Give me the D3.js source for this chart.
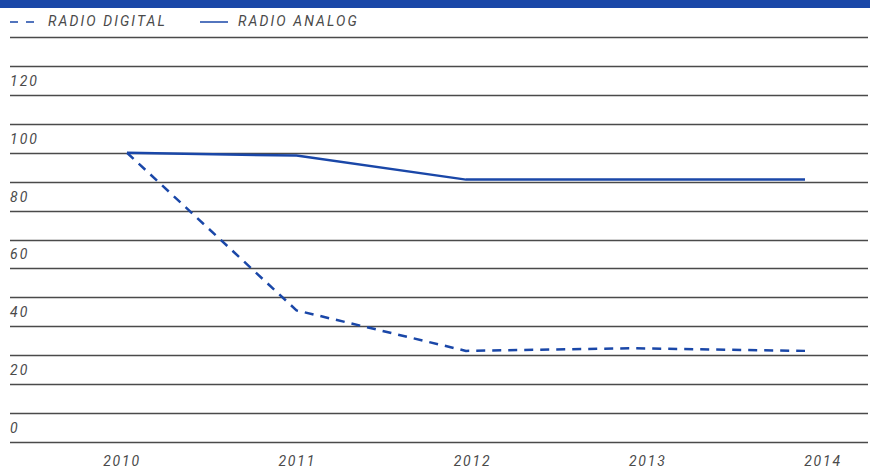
<!DOCTYPE html>
<html>
<head>
<meta charset="utf-8">
<script src="https://cdnjs.cloudflare.com/ajax/libs/d3/7.8.5/d3.min.js"></script>
<style>
  html, body { margin: 0; padding: 0; background: #fff; }
  text { font-family: Roboto, "DejaVu Sans", sans-serif; font-style: italic; fill: #4a4a4a; }
</style>
</head>
<body>
<div id="chart"></div>
<script>
(function() {
    'use strict';

    // chart data
    const years = ['2010', '2011', '2012', '2013', '2014'];
    const radioDigital = [100, 45.5, 31.5, 32.4, 31.5];
    const radioAnalog = [100, 99, 90.7, 90.7, 90.7];
    const yTickLabels = [0, 20, 40, 60, 80, 100, 120];
    const gridValues = d3.range(0, 141, 10);

    const width = 870, height = 468;
    const blue = '#1a47a8';

    const svg = d3.select('#chart').append('svg')
        .attr('width', width)
        .attr('height', height);

    // header bar
    svg.append('rect')
        .attr('x', 0).attr('y', 0)
        .attr('width', width).attr('height', 8)
        .attr('fill', blue);

    const x = d3.scalePoint().domain(years).range([127, 805]);
    // the year labels are spread a little wider than the points
    const xLabel = d3.scalePoint().domain(years).range([122, 823]);
    const y = d3.scaleLinear().domain([0, 140]).range([442, 37]);

    // grid lines
    svg.append('g')
        .selectAll('line')
        .data(gridValues)
        .enter().append('line')
        .attr('x1', 10).attr('x2', 868)
        .attr('y1', d => Math.round(y(d)) + 0.5)
        .attr('y2', d => Math.round(y(d)) + 0.5)
        .attr('stroke', '#4a4a4a')
        .attr('stroke-width', 1.3);

    // y labels sit just above their line
    svg.append('g')
        .selectAll('text')
        .data(yTickLabels)
        .enter().append('text')
        .attr('x', 10)
        .attr('y', d => y(d) - 9)
        .attr('font-size', 14)
        .attr('letter-spacing', 2)
        .text(d => d);

    // x labels
    svg.append('g')
        .selectAll('text')
        .data(years)
        .enter().append('text')
        .attr('x', d => xLabel(d))
        .attr('y', 466)
        .attr('text-anchor', 'middle')
        .attr('font-size', 14)
        .attr('letter-spacing', 1.8)
        .text(d => d);

    const line = d3.line()
        .x((d, i) => x(years[i]))
        .y(d => y(d));

    svg.append('path')
        .datum(radioAnalog)
        .attr('d', line)
        .attr('fill', 'none')
        .attr('stroke', blue)
        .attr('stroke-width', 2.5);

    svg.append('path')
        .datum(radioDigital)
        .attr('d', line)
        .attr('fill', 'none')
        .attr('stroke', blue)
        .attr('stroke-width', 2.5)
        .attr('stroke-dasharray', '9,7');

    // legend
    const legend = [
        { name: 'RADIO DIGITAL', dash: '8,8', x: 10 },
        { name: 'RADIO ANALOG', dash: null, x: 200 }
    ];
    const lg = svg.append('g').selectAll('g')
        .data(legend)
        .enter().append('g');
    lg.append('line')
        .attr('x1', d => d.x).attr('x2', d => d.x + 28)
        .attr('y1', 22).attr('y2', 22)
        .attr('stroke', blue)
        .attr('stroke-width', 1.5)
        .attr('stroke-dasharray', d => d.dash);
    lg.append('text')
        .attr('x', d => d.x + 38)
        .attr('y', 26)
        .attr('font-size', 14)
        .attr('letter-spacing', 2.1)
        .text(d => d.name);
})();
</script>
</body>
</html>
